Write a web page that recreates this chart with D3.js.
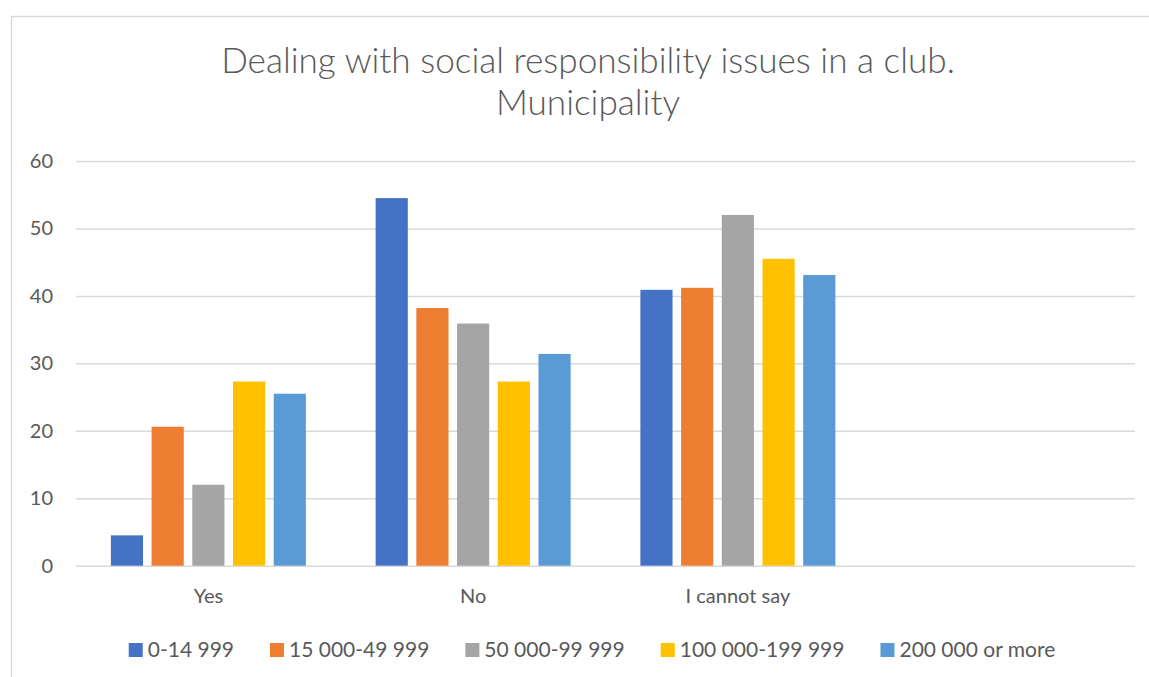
<!DOCTYPE html>
<html>
<head>
<meta charset="utf-8">
<script src="https://cdn.jsdelivr.net/npm/d3@7"></script>
<style>
  html, body { margin: 0; padding: 0; background: #fff; }
  svg { display: block; font-family: Lato, "Open Sans", sans-serif; }
</style>
</head>
<body>
<svg id="chart" width="1149" height="677"></svg>
<script>
// Answer categories (the fourth slot is an empty row in the source sheet)
const categories = ["Yes", "No", "I cannot say", ""];

// Municipality size groups
const seriesNames = ["0-14 999", "15 000-49 999", "50 000-99 999", "100 000-199 999", "200 000 or more"];

// Share of answers (%) per municipality group, in category order
const s0to14999       = [4.5, 54.5, 40.9, null];
const s15000to49999   = [20.6, 38.2, 41.2, null];
const s50000to99999   = [12.0, 35.9, 52.0, null];
const s100000to199999 = [27.3, 27.3, 45.5, null];
const s200000more     = [25.5, 31.4, 43.1, null];

const yTicks = [0, 10, 20, 30, 40, 50, 60];
const titleLines = ["Dealing with social responsibility issues in a club.", "Municipality"];

const seriesValues = [s0to14999, s15000to49999, s50000to99999, s100000to199999, s200000more];
const colors = ["#4472C4", "#ED7D31", "#A5A5A5", "#FFC000", "#5B9BD5"];
const textColor = "#595959";
const gridColor = "#d9d9d9";
const labelSize = 20;

const svg = d3.select("#chart");

// Chart frame
svg.append("rect")
  .attr("x", 11.5).attr("y", 16.5)
  .attr("width", 1200).attr("height", 700)
  .attr("fill", "#fff").attr("stroke", gridColor).attr("stroke-width", 1.5);

const plot = { left: 76, right: 1135, top: 161, bottom: 565.7 };

const x0 = d3.scaleBand().domain(categories).range([plot.left, plot.right]).padding(0);
const x1 = d3.scaleBand().domain(seriesNames).range([0, x0.bandwidth()])
  .paddingInner(0.21).paddingOuter(0.857);
const y = d3.scaleLinear().domain([0, 60]).range([plot.bottom, plot.top]);

// Gridlines and value labels
const yAxis = d3.axisLeft(y).tickValues(yTicks).tickSize(-(plot.right - plot.left)).tickPadding(23);
const gy = svg.append("g").attr("transform", `translate(${plot.left},0)`).call(yAxis);
gy.select(".domain").remove();
gy.selectAll(".tick line").attr("stroke", gridColor).attr("stroke-width", 1.5);
gy.selectAll(".tick text")
  .attr("fill", textColor).style("font-size", labelSize + "px").style("font-family", "Lato, sans-serif");

// Bars
const groups = svg.append("g").selectAll("g")
  .data(categories.map((c, i) => ({ c, i })))
  .join("g")
  .attr("transform", d => `translate(${x0(d.c)},0)`);

groups.selectAll("rect")
  .data(d => seriesNames.map((s, k) => ({ s, k, v: seriesValues[k][d.i] })).filter(e => e.v != null))
  .join("rect")
  .attr("x", e => x1(e.s))
  .attr("width", x1.bandwidth())
  .attr("y", e => y(e.v))
  .attr("height", e => y(0) - y(e.v))
  .attr("fill", e => colors[e.k]);

// Category labels
const xAxis = d3.axisBottom(x0).tickSize(0).tickPadding(23);
const gx = svg.append("g").attr("transform", `translate(0,${plot.bottom})`).call(xAxis);
gx.select(".domain").remove();
gx.selectAll(".tick text")
  .attr("fill", textColor).style("font-size", labelSize + "px").style("font-family", "Lato, sans-serif");

// Title, two centred lines; font size chosen so the first line spans the title width
const title = svg.append("text")
  .attr("text-anchor", "middle")
  .attr("fill", textColor)
  .style("font-size", "30px")
  .style("font-weight", 300);
title.selectAll("tspan").data(titleLines).join("tspan")
  .attr("x", 588)
  .attr("y", (d, i) => 73 + i * 42)
  .text(d => d);
const firstLine = title.select("tspan").node().getComputedTextLength();
title.style("font-size", (30 * 734 / firstLine) + "px");

// Legend, centred under the plot
const legend = svg.append("g");
let cursor = 0;
seriesNames.forEach((name, k) => {
  const item = legend.append("g").attr("transform", `translate(${cursor},0)`);
  item.append("rect").attr("x", 0).attr("y", -14).attr("width", 14).attr("height", 14).attr("fill", colors[k]);
  const t = item.append("text").attr("x", 19).attr("y", 0)
    .attr("fill", textColor).style("font-size", "21px").text(name);
  cursor += 19 + t.node().getComputedTextLength() + 36;
});
const legendWidth = cursor - 36;
legend.attr("transform", `translate(${592 - legendWidth / 2},657)`);
</script>
</body>
</html>
